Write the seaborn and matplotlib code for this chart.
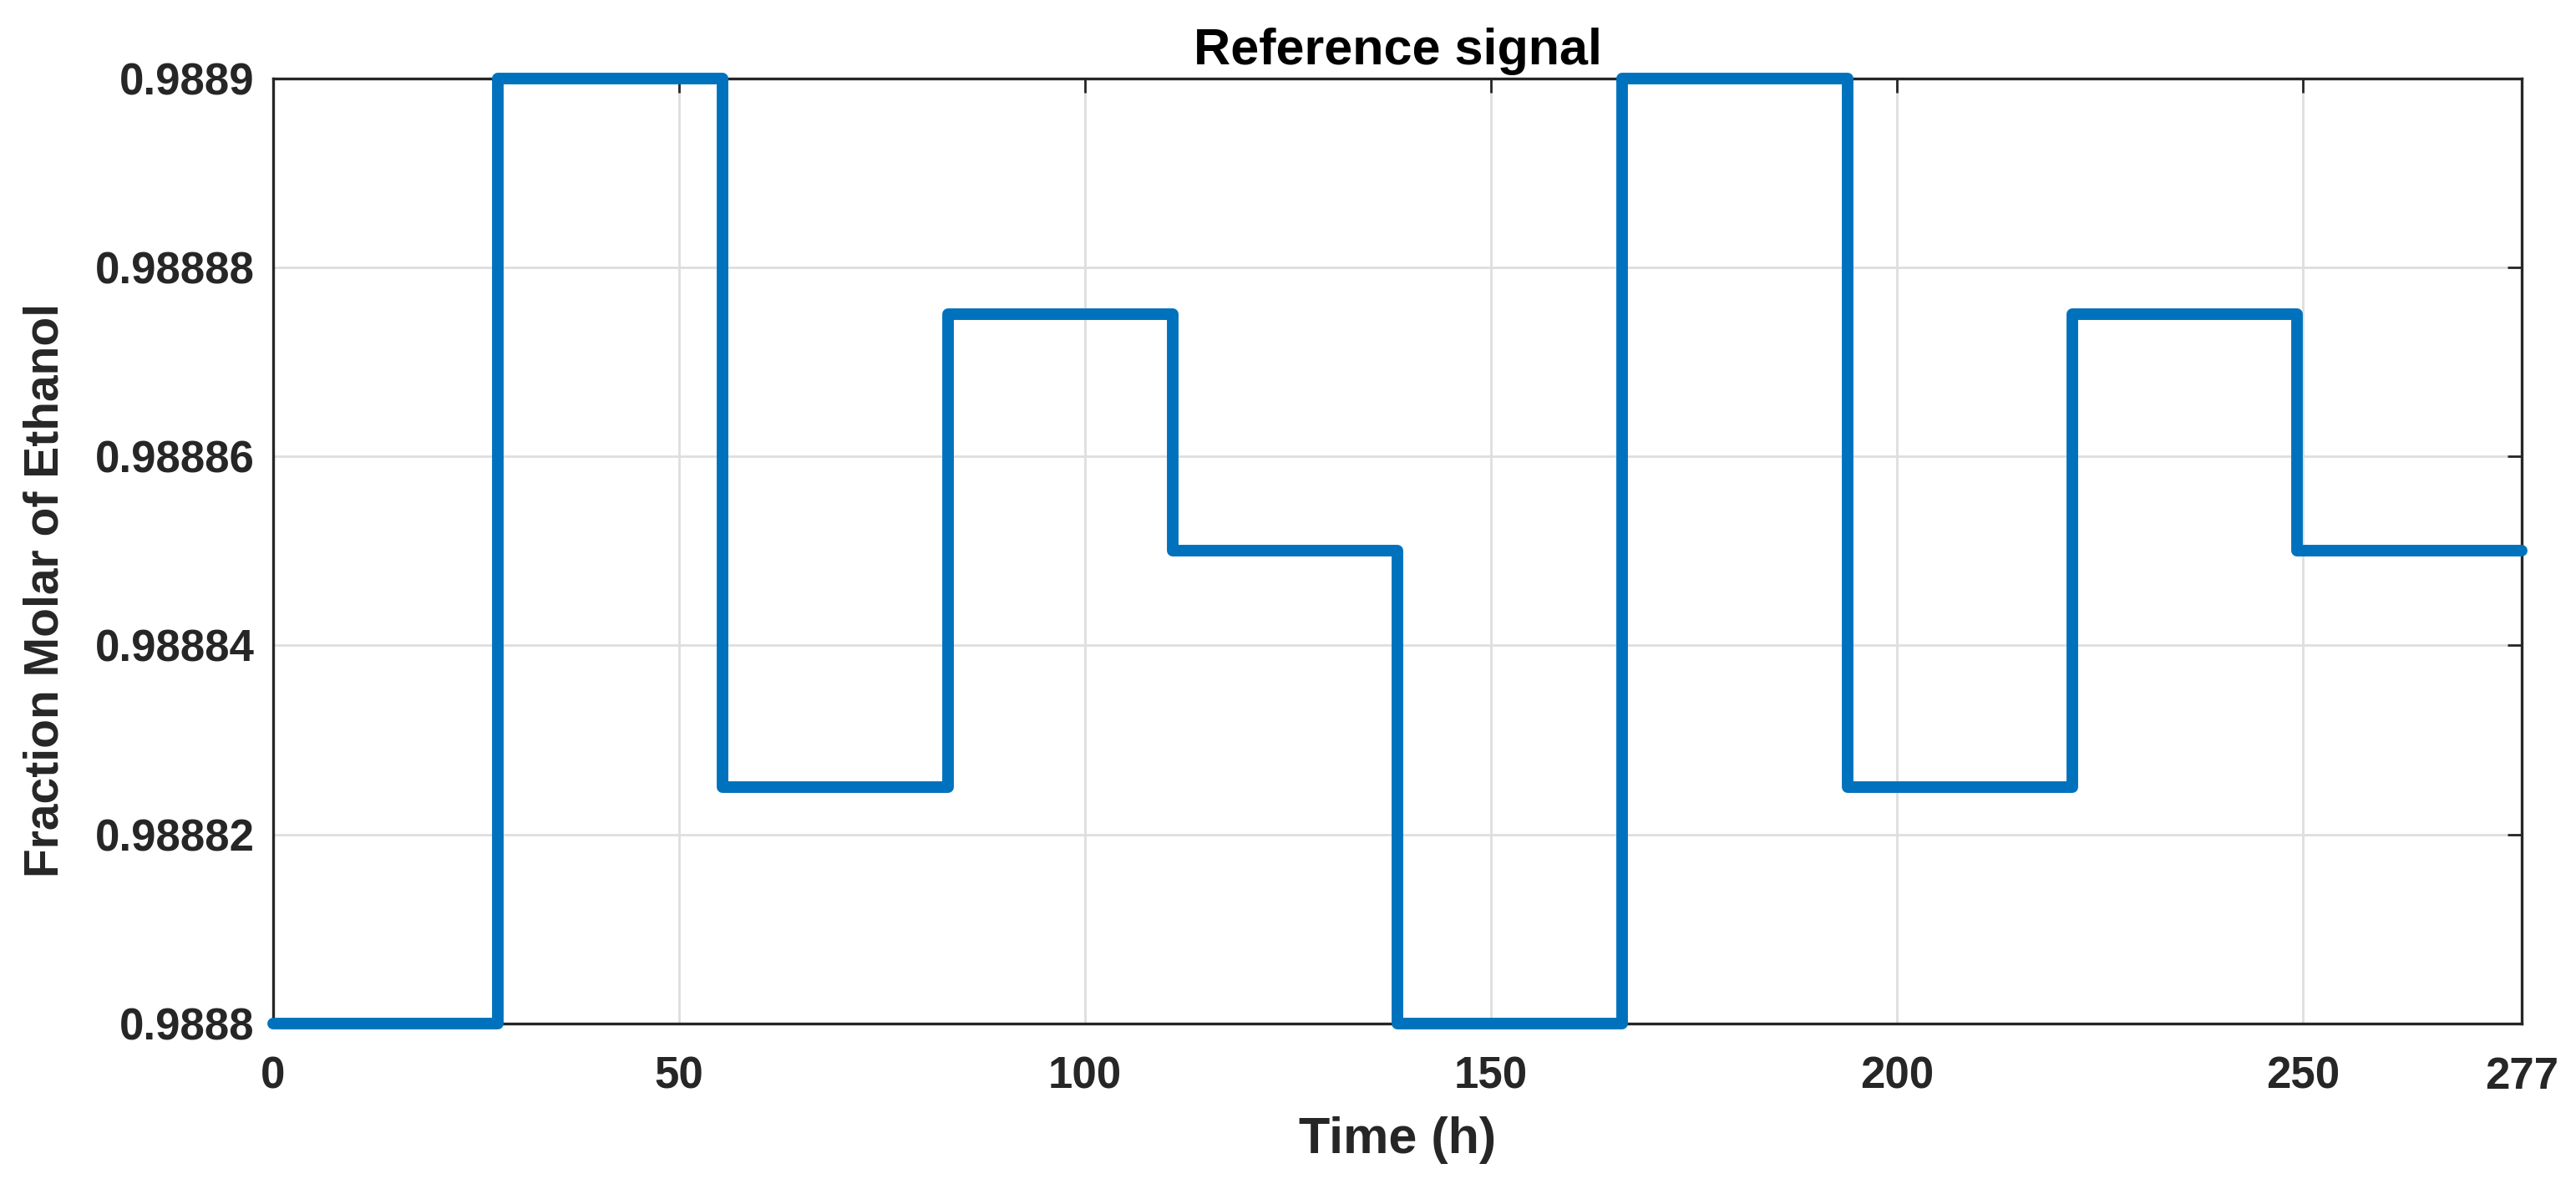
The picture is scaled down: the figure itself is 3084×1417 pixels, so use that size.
import numpy as np
import pandas as pd
import seaborn as sns
import matplotlib.pyplot as plt
from matplotlib.ticker import FixedLocator, FixedFormatter

# step signal
step_times = [0, 27.7, 55.4, 83.1, 110.8, 138.5, 166.2, 193.9, 221.6, 249.3, 277]
step_values = [0.9888, 0.9889, 0.988825, 0.988875, 0.98885,
               0.9888, 0.9889, 0.988825, 0.988875, 0.98885, 0.98885]

x_ticks = [0, 50, 100, 150, 200, 250, 277]
y_ticks = [0.9888, 0.98882, 0.98884, 0.98886, 0.98888, 0.9889]
y_tick_labels = ['0.9888', '0.98882', '0.98884', '0.98886', '0.98888', '0.9889']

df = pd.DataFrame({'Time': step_times, 'Value': step_values})

sns.set_style('white')
plt.rcParams['font.family'] = ['Liberation Sans', 'DejaVu Sans']
plt.rcParams['font.weight'] = 'bold'

fig = plt.figure(figsize=(15.42, 7.085), dpi=200)
ax = fig.add_axes([0.106, 0.1355, 0.873, 0.7985])

sns.lineplot(data=df, x='Time', y='Value', ax=ax, color='#0072BD', linewidth=5,
             drawstyle='steps-post', clip_on=False,
             solid_capstyle='round', solid_joinstyle='round', zorder=3)

ax.set_xlim(0, 277)
ax.set_ylim(0.9888, 0.9889)
ax.xaxis.set_major_locator(FixedLocator(x_ticks))
ax.yaxis.set_major_locator(FixedLocator(y_ticks))
ax.yaxis.set_major_formatter(FixedFormatter(y_tick_labels))

ax.grid(True, color='#DEDEDE', linewidth=1.0)
ax.tick_params(direction='in', length=6, width=1, colors='#262626', labelsize=19,
               top=True, right=True)
ax.tick_params(axis='x', pad=14)
ax.tick_params(axis='y', pad=8)
for lab in ax.get_xticklabels() + ax.get_yticklabels():
    lab.set_fontweight('bold')
for s in ax.spines.values():
    s.set_color('#262626')
    s.set_linewidth(1.2)

ax.set_title('Reference signal', fontsize=22, fontweight='bold', color='black', pad=6)
ax.set_xlabel('Time (h)', fontsize=22, fontweight='bold', color='#262626', labelpad=8)
ax.set_ylabel('Fraction Molar of Ethanol', fontsize=20.5, fontweight='bold', color='#262626')
ax.yaxis.set_label_coords(-0.091, 0.458)

fig.savefig('out.png', dpi=200)
